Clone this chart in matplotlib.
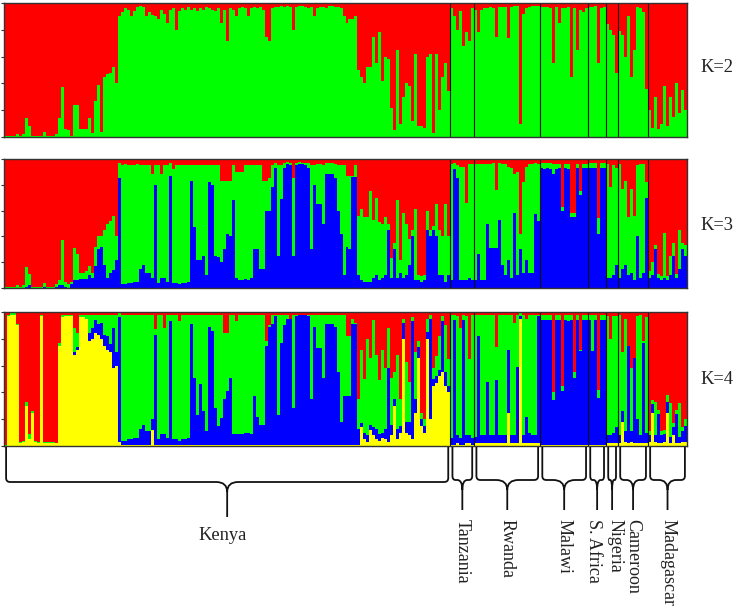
import numpy as np
import matplotlib
matplotlib.use("Agg")
import matplotlib.pyplot as plt
from matplotlib.path import Path
from matplotlib.patches import PathPatch

populations = ["Kenya", "Tanzania", "Rwanda", "Malawi", "S. Africa", "Nigeria", "Cameroon", "Madagascar"]
pop_sizes = [149, 8, 22, 16, 6, 4, 10, 13]
# small sideways nudge of the names (pixels)
label_shift = [-5, 0, 0, 0, -4, 3, 0, 0]

# K=2: green share per individual (%), red is the rest
k2_green = [
    1, 1, 1, 1, 2, 1, 2, 14, 8, 1, 1, 1, 1, 4, 1, 1, 1, 2, 14, 37,
    6, 5, 1, 24, 24, 6, 6, 6, 14, 3, 27, 39, 4, 45, 47, 48, 52, 40, 90,
    93, 96, 95, 90, 94, 97, 98, 97, 90, 93, 91, 90, 88, 95, 92, 85, 95, 96, 80, 94,
    96, 95, 97, 95, 96, 94, 96, 95, 97, 96, 95, 94, 96, 85, 95, 72, 96, 95, 90, 96,
    97, 96, 90, 96, 97, 96, 97, 95, 75, 72, 96, 97, 97, 98, 97, 98, 97, 80, 97, 98,
    98, 97, 96, 97, 90, 96, 97, 97, 96, 98, 98, 97, 97, 96, 90, 85, 88, 88, 90, 50,
    45, 40, 52, 52, 75, 55, 78, 42, 60, 58, 22, 5, 65, 10, 30, 40, 38, 12, 62, 8,
    8, 7, 60, 62, 3, 62, 20, 45, 55, 34,
    96, 90, 80, 94, 68, 78, 72, 96,
    95, 78, 95, 96, 96, 97, 96, 75, 97, 97, 97, 74, 97, 98, 98, 10, 92, 96, 97, 98, 98, 98,
    97, 97, 97, 96, 55, 97, 85, 96, 96, 97, 45, 96, 65, 95, 93, 96,
    97, 97, 98, 55, 96, 97,
    84, 80, 76, 48,
    79, 76, 60, 90, 45, 65, 97, 96, 93, 36,
    20, 7, 30, 6, 10, 38, 8, 30, 15, 40, 18, 35, 20,
]

# K=3: blue and green shares (%), red is the rest
k3_blue = [
    0, 0, 0, 0, 0, 0, 0, 1, 2, 0, 0, 0, 0, 1, 0, 0, 0, 1, 2, 2,
    1, 0, 3, 6, 6, 7, 7, 7, 10, 8, 17, 30, 32, 18, 8, 12, 14, 22, 85,
    3, 3, 4, 4, 5, 5, 15, 18, 12, 12, 8, 80, 4, 8, 8, 5, 87, 4, 4, 3,
    4, 4, 5, 83, 47, 22, 22, 25, 10, 82, 80, 25, 24, 20, 30, 42, 40, 68, 8, 6,
    6, 7, 6, 8, 30, 30, 15, 15, 60, 60, 78, 93, 25, 69, 93, 96, 95, 25, 95, 96,
    96, 95, 93, 30, 80, 65, 65, 50, 88, 88, 88, 85, 60, 42, 10, 32, 30, 86, 86, 10,
    6, 5, 5, 5, 8, 10, 6, 8, 10, 45, 8, 30, 8, 12, 8, 10, 18, 40, 6, 6,
    5, 6, 45, 40, 45, 40, 10, 10, 5, 10,
    6, 92, 85, 6, 6, 6, 8, 6,
    6, 26, 6, 6, 50, 31, 31, 31, 53, 18, 10, 22, 8, 58, 10, 30, 12, 22, 12, 12, 57, 52,
    93, 92, 93, 92, 88, 92, 93, 60, 93, 92, 55, 55, 93, 72, 93, 93,
    93, 93, 93, 42, 93, 93,
    8, 8, 10, 18,
    8, 15, 18, 10, 12, 6, 40, 8, 12, 70,
    8, 10, 30, 8, 6, 8, 6, 10, 25, 8, 15, 30, 25,
]
k3_green = [
    1, 1, 1, 1, 2, 1, 2, 15, 9, 1, 1, 1, 1, 3, 1, 1, 1, 2, 4, 35,
    4, 3, 2, 25, 20, 5, 5, 6, 7, 4, 15, 10, 8, 27, 42, 40, 42, 18, 12,
    92, 93, 91, 91, 90, 91, 80, 77, 83, 83, 80, 15, 91, 80, 87, 90, 10, 88, 91, 92,
    91, 91, 90, 12, 48, 73, 73, 70, 85, 13, 15, 70, 71, 63, 53, 41, 43, 27, 82, 84,
    84, 88, 89, 87, 65, 65, 80, 68, 23, 25, 17, 4, 70, 26, 4, 2, 2, 60, 2, 2,
    1, 2, 4, 65, 15, 31, 31, 45, 9, 9, 9, 11, 35, 53, 85, 55, 57, 1, 9, 46,
    55, 50, 50, 70, 45, 60, 45, 42, 45, 5, 15, 5, 60, 10, 50, 40, 20, 5, 55, 4,
    4, 4, 15, 5, 3, 25, 35, 30, 60, 30,
    90, 5, 10, 88, 88, 60, 88, 90,
    90, 70, 90, 90, 46, 65, 66, 45, 44, 78, 86, 72, 85, 30, 80, 12, 70, 72, 84, 84, 40, 44,
    4, 5, 4, 5, 8, 4, 3, 3, 3, 4, 3, 3, 3, 3, 3, 3,
    4, 4, 4, 12, 4, 4,
    88, 70, 85, 75,
    88, 62, 65, 45, 65, 50, 55, 88, 84, 12,
    5, 10, 3, 3, 3, 35, 3, 15, 10, 3, 30, 5, 8,
]

# K=4: yellow, blue and red shares (%), green is the rest
k4_yellow = [
    0, 97, 98, 98, 90, 2, 3, 30, 5, 25, 3, 2, 97, 2, 2, 2, 2, 2, 75, 96,
    97, 97, 97, 68, 72, 96, 96, 95, 78, 80, 84, 83, 80, 75, 72, 70, 58, 60, 3,
    1, 1, 1, 1, 1, 1, 1, 1, 1, 1, 12, 1, 1, 1, 1, 1, 1, 1, 1, 1,
    1, 1, 1, 1, 1, 1, 1, 1, 1, 1, 1, 1, 1, 1, 1, 1, 1, 1, 1, 1,
    1, 1, 1, 1, 1, 1, 1, 1, 1, 1, 1, 1, 1, 1, 1, 1, 1, 1, 1, 1,
    1, 1, 1, 1, 1, 1, 1, 1, 1, 1, 1, 1, 1, 1, 1, 1, 1, 1, 1, 1,
    14, 5, 3, 12, 8, 5, 4, 6, 5, 3, 8, 30, 5, 10, 80, 10, 8, 5, 25, 66,
    15, 10, 80, 20, 45, 47, 52, 55, 45, 40,
    1, 1, 2, 1, 1, 2, 2, 1,
    2, 2, 2, 2, 2, 2, 2, 2, 2, 2, 2, 25, 2, 2, 2, 95, 2, 2, 2, 2, 2, 2,
    1, 1, 1, 1, 1, 1, 1, 1, 1, 1, 1, 1, 1, 1, 1, 1,
    1, 1, 1, 1, 1, 1,
    2, 2, 2, 2,
    2, 18, 3, 2, 3, 2, 2, 2, 2, 2,
    3, 25, 3, 2, 2, 3, 25, 2, 8, 2, 2, 3, 3,
]
k4_blue = [
    0, 0, 0, 0, 0, 0, 0, 0, 0, 0, 0, 0, 0, 0, 0, 0, 0, 0, 0, 0,
    0, 0, 0, 2, 2, 0, 0, 0, 6, 8, 10, 8, 12, 8, 10, 6, 30, 10, 93,
    3, 3, 4, 4, 5, 5, 12, 15, 10, 10, 8, 82, 4, 8, 8, 5, 92, 4, 4, 3,
    4, 4, 5, 90, 50, 22, 45, 25, 10, 88, 85, 27, 14, 20, 34, 40, 50, 8, 8, 8,
    8, 9, 9, 8, 36, 21, 15, 15, 74, 88, 90, 96, 22, 76, 89, 94, 94, 27, 96, 97,
    97, 97, 96, 34, 88, 72, 72, 50, 90, 90, 90, 88, 54, 17, 36, 36, 36, 90, 90, 12,
    3, 5, 5, 4, 6, 8, 5, 4, 8, 55, 8, 5, 8, 5, 12, 8, 10, 88, 10, 8,
    5, 5, 5, 75, 5, 5, 5, 38, 10, 5,
    5, 93, 6, 5, 93, 6, 6, 5,
    5, 80, 6, 6, 46, 6, 6, 47, 6, 6, 6, 47, 6, 6, 57, 2, 6, 20, 8, 6, 6, 95,
    93, 93, 93, 93, 33, 93, 93, 40, 93, 92, 93, 50, 93, 70, 93, 93,
    93, 70, 93, 35, 93, 93,
    6, 6, 8, 12,
    6, 8, 8, 73, 8, 64, 18, 6, 75, 8,
    5, 6, 5, 22, 6, 6, 8, 5, 6, 22, 5, 8, 12,
]
k4_red = [
    99, 2, 1, 1, 9, 97, 96, 67, 91, 74, 96, 97, 2, 97, 97, 97, 97, 98, 23, 2,
    2, 2, 2, 12, 16, 2, 2, 2, 2, 2, 2, 2, 2, 2, 2, 2, 2, 2, 1,
    2, 2, 2, 2, 2, 2, 2, 2, 2, 2, 2, 13, 2, 2, 12, 2, 2, 2, 2, 7,
    2, 2, 2, 2, 2, 2, 2, 2, 2, 2, 2, 2, 2, 2, 16, 16, 2, 2, 7, 2,
    2, 2, 2, 2, 2, 2, 2, 2, 22, 10, 2, 2, 2, 2, 2, 2, 5, 2, 2, 2,
    2, 2, 2, 2, 2, 2, 2, 2, 2, 2, 2, 2, 2, 2, 2, 18, 18, 5, 8, 65,
    28, 50, 20, 34, 6, 32, 51, 28, 42, 12, 49, 45, 32, 65, 5, 37, 52, 4, 30, 22,
    75, 80, 5, 2, 42, 33, 18, 3, 10, 35,
    2, 2, 3, 12, 2, 3, 35, 2,
    2, 2, 2, 2, 2, 2, 2, 26, 2, 2, 2, 2, 2, 8, 2, 1, 2, 5, 2, 2, 2, 2,
    2, 2, 2, 2, 60, 2, 2, 55, 2, 2, 2, 45, 2, 28, 2, 2,
    2, 2, 2, 58, 2, 2,
    3, 20, 3, 3,
    2, 30, 5, 25, 42, 34, 3, 2, 22, 4,
    89, 66, 67, 73, 89, 88, 62, 68, 83, 73, 68, 86, 80,
]

n = sum(pop_sizes)
for name, lst in [("k2_green", k2_green), ("k3_blue", k3_blue), ("k3_green", k3_green),
                  ("k4_yellow", k4_yellow), ("k4_blue", k4_blue), ("k4_red", k4_red)]:
    assert len(lst) == n, (name, len(lst))

RED, GREEN, BLUE, YELLOW = "#ff0000", "#00ff00", "#0000ff", "#ffff00"

g2 = np.array(k2_green) / 100
b3 = np.array(k3_blue) / 100
g3 = np.array(k3_green) / 100
y4 = np.array(k4_yellow) / 100
b4 = np.array(k4_blue) / 100
r4 = np.array(k4_red) / 100
g4 = np.clip(1 - y4 - b4 - r4, 0, 1)

panels = [
    ("K=2", [(g2, GREEN), (np.clip(1 - g2, 0, 1), RED)]),
    ("K=3", [(b3, BLUE), (g3, GREEN), (np.clip(1 - b3 - g3, 0, 1), RED)]),
    ("K=4", [(y4, YELLOW), (b4, BLUE), (g4, GREEN), (r4, RED)]),
]

W, H = 737, 613
fig = plt.figure(figsize=(W / 100, H / 100), dpi=100)
plt.rcParams['font.family'] = ['Liberation Serif', 'DejaVu Serif']

left_px, right_px = 4, 687
boxes = [(3, 137), (159, 288), (312, 446)]
label_y = [67, 225, 380]
x = np.arange(n)
bounds = np.cumsum(pop_sizes)

for (label, layers), (top, bot), ly in zip(panels, boxes, label_y):
    ax = fig.add_axes([left_px / W, 1 - bot / H, (right_px - left_px) / W, (bot - top) / H])
    base = np.zeros(n)
    for vals, col in layers:
        ax.bar(x, vals, bottom=base, width=1.0, align='edge', color=col,
               linewidth=0, antialiased=False)
        base = base + vals
    for bnd in bounds[:-1]:
        ax.axvline(bnd, color='#111111', lw=0.8)
    ax.set_xlim(0, n)
    ax.set_ylim(0, 1)
    ax.set_xticks([])
    ax.set_yticks(np.arange(0, 1.01, 0.2))
    ax.set_yticklabels([])
    ax.tick_params(axis='y', direction='out', length=2, width=0.8, color='#333333')
    for s in ax.spines.values():
        s.set_color('#333333')
        s.set_linewidth(1.0)
    fig.text(717 / W, 1 - ly / H, label, ha='center', va='center', fontsize=13.3, color='#222222')

# braces with population names below the last panel
bx = fig.add_axes([left_px / W, 0, (right_px - left_px) / W, 1])
bx.set_xlim(0, n)
bx.set_ylim(H, 0)
bx.axis('off')
px = n / (right_px - left_px)

starts = np.concatenate([[0], bounds[:-1]])
for name, s, e, shift in zip(populations, starts, bounds, label_shift):
    a, b = s + 0.7, e - 0.7
    t = (a + b) / 2
    if name == "Kenya":
        y0, y1, y2 = 447, 482, 517
    else:
        y0, y1, y2 = 447, 480, 510
    span = b - a
    r = min(4 * px, span / 6)
    w = min(11 * px, span / 4)
    verts = [(a, y0), (a, y1 - 4), (a, y1), (a + r, y1), (t - w, y1), (t, y1), (t, y1 + 10), (t, y2),
             (t, y1 + 10), (t, y1), (t + w, y1), (b - r, y1), (b, y1), (b, y1 - 4), (b, y0)]
    codes = [Path.MOVETO, Path.LINETO, Path.CURVE3, Path.CURVE3, Path.LINETO, Path.CURVE3, Path.CURVE3,
             Path.LINETO, Path.MOVETO, Path.CURVE3, Path.CURVE3, Path.LINETO, Path.CURVE3, Path.CURVE3,
             Path.LINETO]
    bx.add_patch(PathPatch(Path(verts, codes), fill=False, lw=1.3, color='#111111'))
    if name == "Kenya":
        bx.text(t + shift * px, 540, name, ha='center', va='baseline', fontsize=13.3, color='#222222')
    else:
        bx.text(t + shift * px, 519, name, ha='center', va='top', rotation=270,
                fontsize=13, color='#222222')

fig.savefig("out.png", dpi=100)
